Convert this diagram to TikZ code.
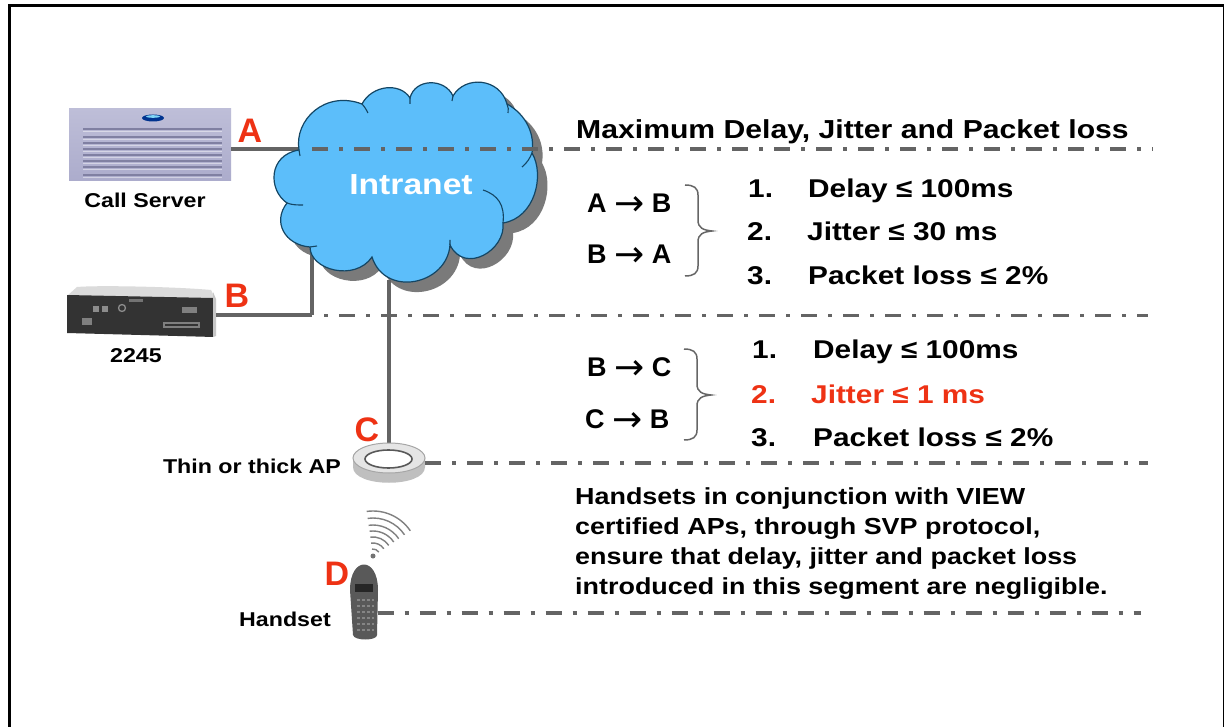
\documentclass[tikz,border=0pt]{standalone}
\usepackage{fontspec}
\setmainfont{Liberation Sans}
\newfontfamily\wf[FakeStretch=1.16]{Liberation Sans}
\newfontfamily\arrowf{DejaVu Sans}
\newcommand{\bigarrow}{\raisebox{-3pt}{\arrowf\mdseries\fontsize{36}{36}\selectfont →}}
\usetikzlibrary{calc}
\definecolor{cloudblue}{RGB}{92,190,250}
\definecolor{cloudedge}{RGB}{20,70,100}
\definecolor{linegray}{RGB}{100,100,100}
\definecolor{labelred}{RGB}{238,50,20}
\definecolor{srvA}{RGB}{190,190,216}
\definecolor{srvB}{RGB}{218,218,234}
\definecolor{srvC}{RGB}{172,172,204}
\definecolor{srvline}{RGB}{128,128,162}
\tikzset{x=1pt,y=-1pt,
 dashline/.style={linegray,line width=3.4pt,dash pattern=on 16pt off 11pt on 4pt off 11pt},
 wire/.style={linegray,line width=4pt},
 letter/.style={text=labelred,font=\fontsize{34}{34}\selectfont\bfseries,inner sep=0pt},
 devlabel/.style={font=\wf\fontsize{20}{22}\selectfont\bfseries,inner sep=0pt},
 body/.style={font=\wf\fontsize{25.7}{28}\selectfont\bfseries,inner sep=0pt,anchor=base west},
 pair/.style={font=\fontsize{27}{29}\selectfont\bfseries,inner sep=0pt,anchor=base west},
 brace/.style={draw=black!60,line width=1.5pt}}
\def\cloudpath{(299,150) .. controls (294,120) and (325,90) .. (362,104)
 .. controls (372,85) and (400,82) .. (410,98)
 .. controls (415,78) and (445,78) .. (453,96)
 .. controls (465,75) and (500,78) .. (507,104)
 .. controls (527,115) and (535,135) .. (532,153)
 .. controls (545,175) and (535,218) .. (503,223)
 .. controls (506,250) and (465,275) .. (450,245)
 .. controls (447,285) and (385,298) .. (372,257)
 .. controls (355,282) and (310,270) .. (310,247)
 .. controls (285,245) and (272,222) .. (287,203)
 .. controls (268,190) and (268,155) .. (299,150) -- cycle}
\begin{document}
\begin{tikzpicture}
\useasboundingbox (0,0) rectangle (1224,727);
\fill[white] (0,0) rectangle (1224,727);
% frame
\fill[black] (8,727) rectangle (11,7);
\fill[black] (8,4) rectangle (1224,7);
\fill[black] (1222.5,4) rectangle (1224,727);
% wires behind cloud
\coordinate (cA) at (300,149);
\coordinate (cB) at (312,250);
\coordinate (cC) at (389,280);
\coordinate (bend) at (312,315.5);
% shadow and cloud
\fill[black!52,shift={(10,10)}] \cloudpath;
\draw[wire] (cB) -- (bend);
% server
\node[inner sep=0pt,minimum width=162pt,minimum height=72pt,top color=srvA,middle color=srvB,bottom color=srvC] (server) at (150,145) {};
\foreach \yy in {129,137,143,149,155,161,167,175}{
 \draw[srvline,line width=1.5pt] (83,\yy) -- (222,\yy);
 \draw[white,opacity=.45,line width=1.2pt] (83,\yy+2.2) -- (222,\yy+2.2);}
\fill[blue!45!black!80!cyan] (153,118) ellipse (11pt and 3.5pt);
\fill[cyan!50!white] (153,116.5) ellipse (7pt and 1.3pt);
\draw[wire] (server.east |- cA) -- (cA);
% 2245
\fill[black!14] (77,287) .. controls (100,285) and (180,287) .. (211,290) -- (216,300) -- (67,296) -- cycle;
\fill[black!80] (67,295) -- (213,298) -- (214,337) -- (67,333) -- cycle;
\fill[black!22] (213,292) -- (216,299) -- (216,336) -- (213,337) -- cycle;
\fill[black!45] (93,306) rectangle (99,312);
\fill[black!45] (102,306) rectangle (108,312);
\draw[black!45,line width=1.3pt] (122,308) circle (3.5pt);
\fill[black!55] (129,299) rectangle (143,302);
\fill[black!50] (182,307) rectangle (197,313);
\fill[black!50] (82,318) rectangle (92,325);
\draw[black!50,line width=1.8pt] (164,323) rectangle (199,327);
\node[inner sep=0pt,minimum width=150pt,minimum height=50pt] (dev2245) at (141,311) {};
\draw[wire] (dev2245.east |- bend) -- (bend);
% AP
\node[inner sep=0pt,minimum width=72pt,minimum height=39pt] (ap) at (389,462.5) {};
\draw[wire] (cC) -- (ap.north);
\draw[draw=cloudedge,fill=cloudblue,line width=1.2pt] \cloudpath;
\draw[cloudedge,line width=1.1pt]
 (362,104) .. controls (364,106) and (366,109) .. (368,113)
 (410,98) -- (410,104)
 (453,96) -- (452,101)
 (507,104) .. controls (508,107) and (509,110) .. (508,113)
 (532,153) .. controls (530,158) and (527,163) .. (522,167)
 (503,223) .. controls (505,205) and (498,195) .. (483,190)
 (450,245) -- (450,240)
 (310,247) -- (317,246)
 (287,203) .. controls (292,205) and (297,205) .. (303,205)
 (299,150) -- (300,156);
\node[text=white,font=\wf\fontsize{29}{30}\selectfont\bfseries,inner sep=0pt] (intranet) at (411,185) {Intranet};
\fill[black!25] (353,458) -- (353,467) .. controls (353,488) and (425,488) .. (425,467) -- (425,458) -- cycle;
\draw[black!35,fill=black!10,line width=1pt] (389,458) ellipse (36pt and 15pt);
\draw[black!65,fill=white,line width=1.6pt] (388.5,459) ellipse (23.5pt and 9pt);
% waves
\foreach \r in {7,13,19,25,31,38,45}
 \draw[black!50,line width=1.4pt] (373,556) ++(-98:\r) arc[start angle=-98,end angle=-34,radius=\r];
\fill[black!55] (373,556) circle (2.5pt);
% handset
\fill[black!65] (350,590) .. controls (350,556) and (378,556) .. (378,590) -- (377,635) .. controls (377,641) and (354,641) .. (353,635) -- cycle;
\fill[black!85] (355,584) rectangle (373,592);
\foreach \yy in {600,606,612,618,624,630} \draw[black!48,line width=1.6pt,dash pattern=on 3pt off 2pt] (357,\yy) -- (374,\yy);
\node[inner sep=0pt,minimum width=27pt,minimum height=76pt] (handset) at (364,603) {};
% dashed
\coordinate (eA) at (1153,149);
\coordinate (eB) at (1148,315.5);
\coordinate (eC) at (1148,463);
\coordinate (eD) at (1141,613);
\draw[dashline] (312,149) -- (eA);
\draw[dashline,dash phase=27pt] (324,315.5) -- (eB);
\draw[dashline] (ap.east |- eC) -- (eC);
\draw[dashline] (handset.east |- eD) -- (eD);
% letters
\node[letter] (lA) at (250,131) {A};
\node[letter] (lB) at (237,296) {B};
\node[letter] (lC) at (367,430) {C};
\node[letter] (lD) at (337,574) {D};
% labels
\node[devlabel] (lbl1) at (145,200) {Call Server};
\node[devlabel] (lbl2) at (136,356) {2245};
\node[devlabel] (lbl3) at (252,466) {Thin or thick AP};
\node[devlabel] (lbl4) at (285,619) {Handset};
% right
\node[font=\wf\fontsize{26}{28}\selectfont\bfseries,inner sep=0pt,anchor=base west] (title) at (576,139) {Maximum Delay, Jitter and Packet loss};
\node[pair] (p1) at (587,213) {A \bigarrow{} B};
\node[pair] (p2) at (587,264) {B \bigarrow{} A};
\node[pair] (p3) at (587,377) {B \bigarrow{} C};
\node[pair] (p4) at (585,428) {C \bigarrow{} B};
\draw[brace] (685,185) .. controls (694,185) and (698,188) .. (698,195) -- (698,220) .. controls (698,228) and (703,230) .. (712,231) .. controls (703,232) and (698,234) .. (698,242) -- (698,266) .. controls (698,273) and (694,276) .. (685,276);
\draw[brace] (684,349) .. controls (693,349) and (697,352) .. (697,359) -- (697,384) .. controls (697,392) and (702,394) .. (711,395) .. controls (702,396) and (697,398) .. (697,406) -- (697,430) .. controls (697,437) and (693,440) .. (684,440);
\node[body] (n1) at (748,198) {1.};
\node[body] (t1) at (808,198) {Delay ≤ 100ms};
\node[body] (n2) at (747,241) {2.};
\node[body] (t2) at (807,241) {Jitter ≤ 30 ms};
\node[body] (n3) at (747,285) {3.};
\node[body] (t3) at (808,285) {Packet loss ≤ 2\%};
\node[body] (n4) at (752,359) {1.};
\node[body] (t4) at (813,359) {Delay ≤ 100ms};
\node[body,text=labelred] (n5) at (751,403) {2.};
\node[body,text=labelred] (t5) at (811,403) {Jitter ≤ 1 ms};
\node[body] (n6) at (751,446) {3.};
\node[body] (t6) at (813,446) {Packet loss ≤ 2\%};
\node[font=\wf\fontsize{23.2}{30}\selectfont\bfseries,inner sep=0pt,align=left,anchor=north west] (para) at (575,487) {Handsets in conjunction with VIEW\\certified APs, through SVP protocol,\\ensure that delay, jitter and packet loss\\introduced in this segment are negligible.};
\end{tikzpicture}
\end{document}
